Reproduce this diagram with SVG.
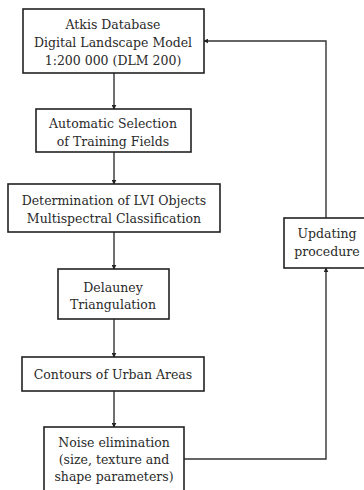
<svg xmlns="http://www.w3.org/2000/svg" width="364" height="490" viewBox="0 0 364 490">
  <defs>
    <marker id="arrow" viewBox="0 0 8 8" refX="7" refY="4" markerWidth="5" markerHeight="5" orient="auto" markerUnits="userSpaceOnUse">
      <path d="M0,0 L8,4 L0,8 Z" fill="#222"/>
    </marker>
  </defs>
  <style>
    .box { fill: #fff; stroke: #222; stroke-width: 1.6; }
    .lbl { font-family: "DejaVu Serif", "Liberation Serif", serif; font-size: 12.5px; fill: #2a2a2a; text-anchor: middle; }
    .edge { fill: none; stroke: #333; stroke-width: 1.4; }
  </style>
  <rect width="364" height="490" fill="#fff"/>

  <g id="connectors">
    <line class="edge" x1="114" y1="73" x2="114" y2="109" marker-end="url(#arrow)"/>
    <line class="edge" x1="114" y1="152" x2="114" y2="184" marker-end="url(#arrow)"/>
    <line class="edge" x1="114" y1="232" x2="114" y2="269" marker-end="url(#arrow)"/>
    <line class="edge" x1="114" y1="319" x2="114" y2="357" marker-end="url(#arrow)"/>
    <line class="edge" x1="114" y1="391" x2="114" y2="427" marker-end="url(#arrow)"/>
    <polyline class="edge" points="184,459 326,459 326,268" marker-end="url(#arrow)"/>
    <polyline class="edge" points="326,218 326,41 204,41" marker-end="url(#arrow)"/>
  </g>

  <g id="atkis">
    <rect class="box" x="23" y="9" width="181" height="64"/>
    <text class="lbl" x="113" y="29">Atkis Database</text>
    <text class="lbl" x="113" y="47">Digital Landscape Model</text>
    <text class="lbl" x="113" y="65">1:200 000 (DLM 200)</text>
  </g>

  <g id="selection">
    <rect class="box" x="36" y="109" width="155" height="43"/>
    <text class="lbl" x="113" y="128">Automatic Selection</text>
    <text class="lbl" x="113" y="146">of Training Fields</text>
  </g>

  <g id="classification">
    <rect class="box" x="8" y="184" width="212" height="48"/>
    <text class="lbl" x="114" y="205">Determination of LVI Objects</text>
    <text class="lbl" x="114" y="223">Multispectral Classification</text>
  </g>

  <g id="delauney">
    <rect class="box" x="58" y="269" width="111" height="50"/>
    <text class="lbl" x="113" y="292">Delauney</text>
    <text class="lbl" x="113" y="309">Triangulation</text>
  </g>

  <g id="contours">
    <rect class="box" x="22" y="357" width="182" height="34"/>
    <text class="lbl" x="113" y="379">Contours of Urban Areas</text>
  </g>

  <g id="noise">
    <rect class="box" x="44" y="427" width="140" height="70"/>
    <text class="lbl" x="114" y="447">Noise elimination</text>
    <text class="lbl" x="114" y="464">(size, texture and</text>
    <text class="lbl" x="114" y="481">shape parameters)</text>
  </g>

  <g id="updating">
    <rect class="box" x="284" y="218" width="90" height="50"/>
    <text class="lbl" x="327" y="238">Updating</text>
    <text class="lbl" x="327" y="256">procedure</text>
  </g>
</svg>
